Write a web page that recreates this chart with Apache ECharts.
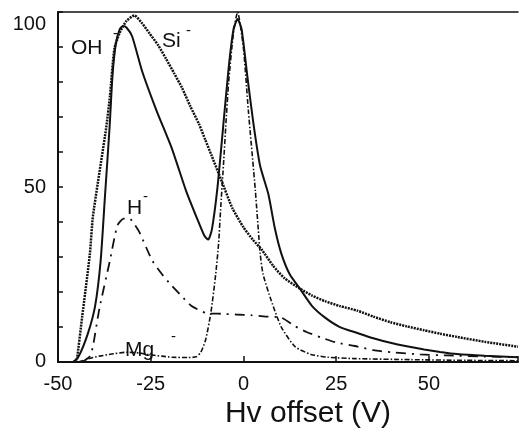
<!DOCTYPE html>
<html lang="en">
<head>
    <meta charset="UTF-8">
    <style>
        body { margin: 0; background: #fff; }
        #main { width: 521px; height: 434px; }
    </style>
    <title>Hv offset</title>
</head>
<body>
    <div id="main"></div>
    <script src="https://cdn.jsdelivr.net/npm/echarts@6/dist/echarts.min.js"></script>
    <script>
        // curves, [Hv offset (V), normalised intensity]
        var ohData = [[-46,0],[-44.5,1.5],[-42,8],[-40,16],[-38.5,29],[-37.3,48],[-36.1,67],[-35.3,82],[-34.4,91],
            [-33.4,95],[-32.5,96],[-31.5,95.5],[-30,93],[-27.3,83],[-23.5,72],[-19.3,61],[-15.5,49],[-12.5,41],
            [-10.5,36],[-9.5,35],[-8.5,38],[-7,50],[-5.5,67],[-4,84],[-2.7,95],[-1.6,98],[-0.5,95],[1,82],
            [2.7,68],[4.5,56],[6.7,48],[8.5,38],[10.2,31],[12.5,25],[15.2,21],[18.5,16],[22,12.7],[26,10],
            [30.7,8.3],[35,6.8],[39.6,5.5],[44,4.5],[48.7,3.6],[53,2.9],[57.5,2.3],[65,1.8],[74,1.4]];
        var siData = [[-45.3,0],[-44.9,0.8],[-43.5,12.8],[-41.4,31],[-40.6,41.5],[-37,67],[-36,76],[-34.8,89.5],
            [-33.4,94],[-31.5,97.5],[-29.4,99],[-27.5,97],[-25.4,94],[-23,90.5],[-20.9,86.7],[-18.7,82.5],
            [-16.6,78.4],[-14.3,73],[-12,68],[-10.3,63.5],[-8.6,59],[-6,52],[-3,44],[0,38.5],[2.5,35],[5,32],
            [8,27.5],[11,24],[15.2,21],[18.5,19],[22,17.4],[26,16],[30.7,14.7],[35,13],[39.6,11.4],[44,10.2],
            [48.7,9.1],[53,8.1],[57.5,7.2],[65,5.8],[74,4.4]];
        var hData = [[-43.5,0],[-41.4,1.7],[-40.6,4.4],[-38.8,15.5],[-36,29],[-34,39],[-32.3,41],[-30.7,41],
            [-29.5,39.5],[-28,37],[-24.6,29],[-21.9,25],[-19.5,22],[-16.8,19],[-14,16],[-10,14],[-6,13.8],
            [-2,13.6],[2,13.4],[6,13],[10.2,12.7],[14,10.2],[17,8.6],[21,7],[25,5.6],[30,4.6],[35,3.4],
            [40,2.8],[47.6,2.2],[55,1.9],[65,1.6],[74,1.4]];
        var mgData = [[-44.5,0],[-41,1.2],[-38.8,1.7],[-35,2.4],[-31.6,2.8],[-28,2.6],[-26.2,2.2],[-22,1.7],
            [-19.3,1.4],[-15,1.3],[-12.8,1.5],[-11.5,2.8],[-10.2,6.4],[-8.8,14],[-7.5,25],[-6.7,34],[-6.2,43],
            [-5.3,58],[-4.8,67],[-4,80],[-2.7,94],[-1.6,100],[0,89.5],[1.3,72],[3.2,49],[4.5,31],[5.3,25],
            [7.5,17.5],[10.2,10],[13.9,4.4],[18.2,2.2],[22.7,1.4],[30,1],[45,0.7],[60,0.5],[74,0.4]];

        var xTicks = [-50, -25, 0, 25, 50];
        var yTicks = [0, 50, 100];

        var font = 'Liberation Sans, Arial, sans-serif';

        function curve(name, data, dash, width) {
            return {
                name: name,
                type: 'line',
                data: data,
                showSymbol: false,
                smooth: 0.2,
                silent: true,
                lineStyle: { color: '#111', width: width, type: dash }
            };
        }

        function label(text, x, y, size) {
            return {
                type: 'text', left: x, top: y,
                style: { text: text, font: size + 'px ' + font, fill: '#111' }
            };
        }

        var option = {
            animation: false,
            grid: { left: 58, right: 0, top: 12, bottom: 61 },
            xAxis: [{
                type: 'value',
                min: -50, max: 74, interval: 25,
                name: 'Hv offset (V)',
                nameLocation: 'middle',
                nameGap: 36,
                nameTextStyle: { fontSize: 30, color: '#111', fontFamily: font, padding: [0, 0, 0, 40] },
                axisLine: { lineStyle: { color: '#111', width: 2 } },
                axisTick: { inside: true, length: 6, lineStyle: { color: '#111', width: 1.5 } },
                axisLabel: {
                    fontSize: 20, color: '#111', fontFamily: font, margin: 12,
                    formatter: function (v) { return xTicks.indexOf(v) >= 0 ? String(v) : ''; }
                },
                splitLine: { show: false }
            }, {
                type: 'value', position: 'top',
                min: -50, max: 74,
                axisLine: { show: true, onZero: false, lineStyle: { color: '#111', width: 1.5 } },
                axisTick: { show: false }, axisLabel: { show: false }, splitLine: { show: false }
            }],
            yAxis: {
                type: 'value',
                min: 0, max: 100, interval: 10,
                axisLine: { show: true, onZero: false, lineStyle: { color: '#111', width: 2 } },
                axisTick: { show: true, inside: true, length: 5, lineStyle: { color: '#111', width: 1.5 } },
                axisLabel: {
                    fontSize: 20, color: '#111', fontFamily: font, margin: 12,
                    formatter: function (v) {
                        if (yTicks.indexOf(v) < 0) return '';
                        if (v === 100) return '{t|' + v + '}';
                        if (v === 0) return '{b|' + v + '}';
                        return '{m|' + v + '}';
                    },
                    rich: {
                        t: { fontSize: 20, fontFamily: font, color: '#111', padding: [25, 0, 0, 0] },
                        m: { fontSize: 20, fontFamily: font, color: '#111' },
                        b: { fontSize: 20, fontFamily: font, color: '#111', padding: [0, 0, 2, 0] }
                    }
                },
                splitLine: { show: false }
            },
            series: [
                curve('OH-', ohData, 'solid', 2),
                curve('Si-', siData, [2, 1], 2.5),
                curve('H-', hData, [10, 6, 2, 6], 1.8),
                curve('Mg-', mgData, [5, 2, 1.5, 2], 1.6)
            ],
            graphic: [
                label('OH', 71, 38, 21),
                label('-', 113, 26, 15),
                label('Si', 162, 31, 21),
                label('-', 186, 23, 15),
                label('H', 127, 198, 21),
                label('-', 143, 189, 15),
                label('Mg', 125, 340, 21),
                label('-', 171, 329, 15)
            ]
        };

        var myChart = echarts.init(document.getElementById('main'));
        myChart.setOption(option);
    </script>
</body>
</html>
